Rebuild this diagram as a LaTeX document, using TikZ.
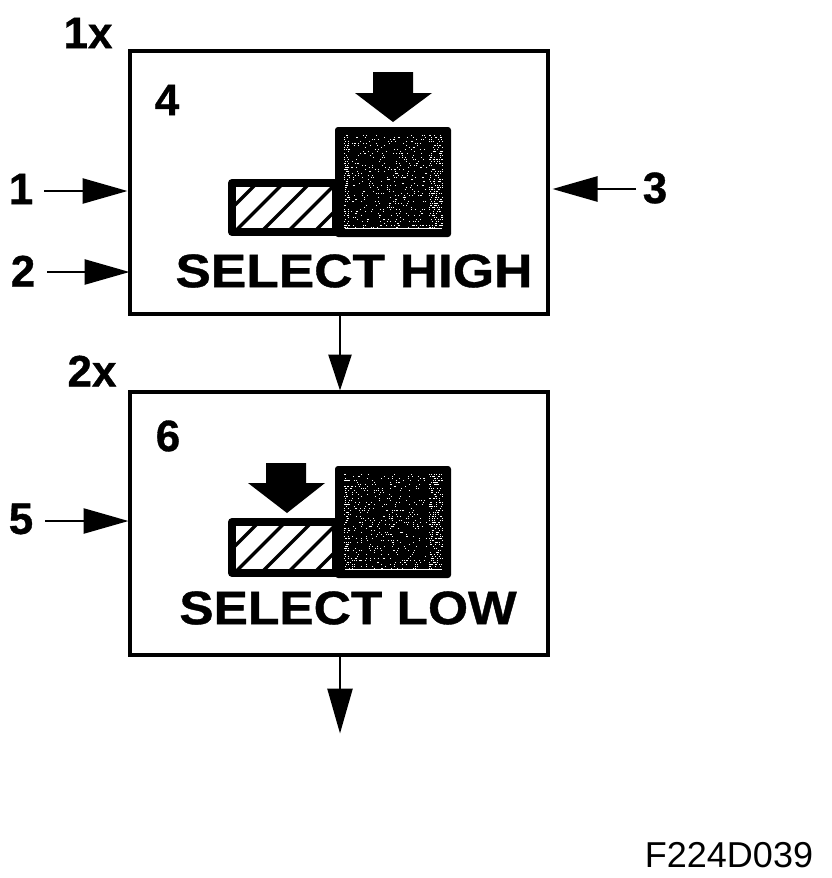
\documentclass[tikz,border=0pt]{standalone}
\usepackage{fontspec}
\setmainfont[BoldFeatures={FakeBold=0.8}]{Liberation Sans}
\usetikzlibrary{arrows.meta}
\tikzset{
 x=1pt,y=-1pt,
 panel/.style={draw,line width=4pt,minimum width=418pt,minimum height=263pt,inner sep=0pt,outer sep=0pt,anchor=north west},
 lab/.style={font=\fontsize{44}{44}\selectfont\bfseries,inner sep=0pt},
 sel/.style={font=\fontsize{47}{47}\selectfont\bfseries,inner sep=0pt,xscale=#1,transform shape},
 conn/.style={line width=2.6pt,-{Triangle[length=45pt,width=25pt]},shorten >=-0.5pt},
 thick box/.style={line width=8pt,line join=round},
 hatchline/.style={line width=3.4pt},
}
\newcommand{\darkblock}[4]{%
 \fill[black,rounded corners=3pt] (#1,#2) rectangle (#3,#4);
 \pgfmathsetseed{#1+#2}
 \foreach \i in {1,...,420}{
  \pgfmathsetmacro{\dx}{int(rnd*80)}
  \pgfmathsetmacro{\dy}{int(rnd*(#4-#2-16)/2)*2}
  \fill[white] ({#1+12+\dx},{#2+8+\dy}) rectangle +(1,1);
 }
 \foreach \i in {1,...,260}{
  \pgfmathsetmacro{\dx}{int(rnd*14)}
  \pgfmathsetmacro{\dy}{int(rnd*(#4-#2-16)/2)*2}
  \fill[white] ({#3-22+\dx},{#2+8+\dy}) rectangle +(1,1);
 }
 \foreach \i in {1,...,110}{
  \pgfmathsetmacro{\dx}{int(rnd*5)}
  \pgfmathsetmacro{\dy}{int(rnd*(#4-#2-16)/2)*2}
  \fill[white] ({#1+9+\dx},{#2+8+\dy}) rectangle +(1,1);
 }
 \fill[white] (#1+10,#4-9) rectangle (#3-9,#4-8);
}
\newcommand{\hatchblock}[4]{%
 \begin{scope}
  \clip (#1,#2) rectangle (#3,#4);
  \foreach \k in {0,1,...,4}{
   \draw[hatchline] ({#1-24+\k*26.5},#4) -- ++(70,-70);
  }
 \end{scope}
 \draw[thick box] (#1,#2) rectangle (#3,#4);
}
\begin{document}
\begin{tikzpicture}
\useasboundingbox (0,0) rectangle (832,878);
\fill[white] (0,0) rectangle (832,878);

\node[panel] (boxA) at (130,51) {};
\node[panel] (boxB) at (130,392) {};

% upper icon
\hatchblock{232}{183}{336}{232}
\darkblock{335}{127}{451}{237}
\fill (373,72) -- (413,72) -- (413,93) -- (432,93) -- (393,122) -- (355,93) -- (373,93) -- cycle;

% lower icon
\hatchblock{232}{522}{336}{573}
\darkblock{335}{466}{451}{578}
\fill (266,463) -- (306,463) -- (306,483) -- (325,483) -- (287,513) -- (248,483) -- (266,483) -- cycle;

% texts
\node[lab] (lx1) at (88,33) {1x};
\node[lab] (lx2) at (92,371) {2x};
\node[lab] (n4) at (167,100) {4};
\node[lab] (n6) at (168,436) {6};
\node[sel=1.13] (tA) at (354,271) {SELECT HIGH};
\node[sel=1.095] (tB) at (348,608) {SELECT LOW};
\node[inner sep=0pt,font=\fontsize{36}{36}\selectfont] (code) at (729,855) {F224D039};

\node[lab] (n1) at (21,189) {1};
\node[lab] (n2) at (23,271) {2};
\node[lab] (n3) at (655,188) {3};
\node[lab] (n5) at (21,519) {5};

\coordinate (s1) at (44,191);
\coordinate (e1) at (127,191);
\coordinate (s2) at (47,272);
\coordinate (e2) at (129,272);
\coordinate (s3) at (636,189);
\coordinate (e3) at (553,189);
\coordinate (s5) at (45,521);
\coordinate (e5) at (128,521);
\coordinate (sB) at (340,316);
\coordinate (eB) at (340,390);
\coordinate (sC) at (340,656);
\coordinate (eC) at (340,733);

\draw[conn] (s1) -- (e1);
\draw[conn] (s2) -- (e2);
\draw[conn] (s3) -- (e3);
\draw[conn] (s5) -- (e5);
\draw[conn,-{Triangle[length=36pt,width=23pt]}] (sB) -- (eB);
\draw[conn] (sC) -- (eC);
\end{tikzpicture}
\end{document}
